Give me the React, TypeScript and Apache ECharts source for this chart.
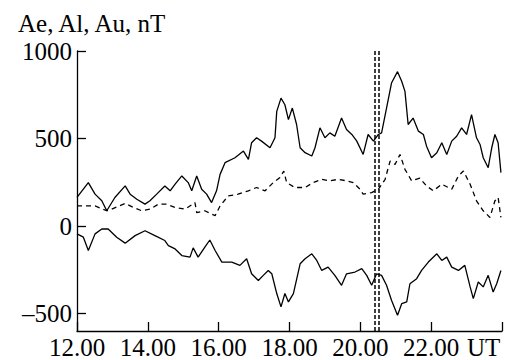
import React, { useEffect, useRef } from "react";
import * as echarts from "echarts";

// [time (UT hours), value nT]
const aeData: [number, number][] = [
  [12.0, 163], [12.32, 248], [12.51, 182], [12.7, 144], [12.84, 87], [13.07, 163],
  [13.36, 229], [13.5, 182], [13.69, 153], [13.92, 125], [14.06, 144], [14.25, 182],
  [14.48, 229], [14.63, 201], [14.77, 239], [14.96, 286], [15.14, 248], [15.24, 201],
  [15.38, 286], [15.52, 210], [15.66, 182], [15.8, 134], [15.94, 201], [16.04, 295],
  [16.18, 362], [16.46, 390], [16.7, 428], [16.84, 381], [16.93, 476], [17.07, 504],
  [17.21, 485], [17.45, 447], [17.59, 504], [17.64, 655], [17.76, 731], [17.87, 693],
  [17.97, 608], [18.08, 674], [18.2, 580], [18.3, 447], [18.44, 419], [18.63, 400],
  [18.72, 447], [18.86, 561], [19.0, 504], [19.14, 532], [19.28, 513], [19.47, 617],
  [19.61, 551], [19.76, 523], [19.9, 485], [20.08, 409], [20.22, 523], [20.37, 485],
  [20.51, 523], [20.6, 532], [20.74, 674], [20.88, 817], [21.05, 882], [21.17, 826],
  [21.26, 769], [21.35, 580], [21.49, 617], [21.64, 542], [21.78, 523], [21.87, 456],
  [22.01, 390], [22.16, 419], [22.3, 476], [22.44, 409], [22.58, 485], [22.72, 513],
  [22.86, 561], [23.0, 523], [23.14, 636], [23.28, 504], [23.38, 466], [23.47, 390],
  [23.61, 333], [23.71, 447], [23.8, 523], [23.89, 476], [23.97, 305],
];

const auData: [number, number][] = [
  [12.0, 115], [12.51, 115], [12.84, 87], [12.98, 96], [13.36, 129], [13.59, 106],
  [13.83, 87], [14.06, 96], [14.3, 125], [14.53, 125], [14.77, 106], [15.05, 96],
  [15.33, 134], [15.38, 77], [15.61, 87], [15.8, 68], [15.9, 59], [16.04, 115],
  [16.27, 172], [16.55, 182], [16.84, 201], [17.07, 220], [17.31, 201], [17.54, 248],
  [17.73, 277], [17.84, 314], [17.92, 248], [18.15, 220], [18.44, 220], [18.67, 248],
  [18.91, 267], [19.14, 258], [19.38, 267], [19.61, 258], [19.8, 248], [19.99, 210],
  [20.08, 182], [20.32, 191], [20.51, 210], [20.7, 267], [20.84, 371], [20.98, 352],
  [21.12, 409], [21.26, 324], [21.45, 258], [21.68, 273], [21.87, 229], [22.06, 201],
  [22.3, 239], [22.58, 210], [22.77, 286], [22.91, 314], [23.1, 239], [23.28, 144],
  [23.47, 87], [23.66, 49], [23.8, 144], [23.89, 163], [23.97, 49],
];

const alData: [number, number][] = [
  [12.0, -45], [12.18, -64], [12.32, -140], [12.51, -45], [12.7, -17], [12.88, -17],
  [13.12, -64], [13.36, -98], [13.64, -55], [13.92, -27], [14.2, -55], [14.48, -83],
  [14.58, -112], [14.77, -131], [14.96, -169], [15.19, -178], [15.28, -125], [15.42, -178],
  [15.61, -121], [15.75, -80], [15.9, -140], [16.09, -206], [16.37, -206], [16.6, -225],
  [16.79, -187], [16.93, -273], [17.12, -311], [17.26, -282], [17.4, -254], [17.5, -273],
  [17.64, -386], [17.76, -462], [17.87, -386], [17.97, -434], [18.11, -386], [18.3, -216],
  [18.44, -187], [18.63, -159], [18.77, -197], [18.91, -254], [19.09, -235], [19.28, -282],
  [19.47, -339], [19.61, -273], [19.85, -263], [20.04, -244], [20.18, -282], [20.32, -339],
  [20.46, -273], [20.6, -282], [20.74, -339], [20.88, -424], [21.05, -510], [21.17, -443],
  [21.31, -434], [21.4, -330], [21.59, -301], [21.73, -254], [21.92, -206], [22.16, -159],
  [22.3, -197], [22.44, -178], [22.58, -235], [22.77, -254], [22.95, -225], [23.1, -348],
  [23.19, -415], [23.33, -320], [23.47, -348], [23.61, -282], [23.75, -377], [23.85, -330],
  [23.97, -254],
];

const yTickValues = [-500, 0, 500, 1000];
const xTickValues = [12, 14, 16, 18, 20, 22, 24];
const xLabelValues = [12, 14, 16, 18, 20, 22];
const eventTimes = [20.42, 20.51];
const yTitle = "Ae, Al, Au, nT";
const xUnit = "UT";

const FONT = "Liberation Serif";

export default function App() {
  const ref = useRef<HTMLDivElement>(null);
  useEffect(() => {
    if (!ref.current) return;
    const chart = echarts.init(ref.current, undefined, { renderer: "svg" });
    const axisLine = { show: true, onZero: false, lineStyle: { color: "#000", width: 1.3 } };
    chart.setOption({
      animation: false,
      backgroundColor: "#fff",
      grid: { left: 77, right: 6, top: 51, bottom: 29 },
      xAxis: {
        type: "value",
        min: 12,
        max: 24,
        name: xUnit,
        nameLocation: "end",
        nameGap: -35,
        nameTextStyle: {
          color: "#000",
          fontFamily: FONT,
          fontSize: 25,
          lineHeight: 22,
          verticalAlign: "top",
          align: "left",
          padding: [5, 0, 0, 0],
        },
        axisLine,
        splitLine: { show: false },
        axisTick: {
          show: true,
          inside: true,
          length: 9,
          customValues: xTickValues,
          lineStyle: { color: "#000", width: 1.3 },
        },
        axisLabel: {
          customValues: xLabelValues,
          formatter: (v: number) => v.toFixed(2),
          color: "#000",
          fontFamily: FONT,
          fontSize: 25,
          lineHeight: 22,
          margin: 5,
        },
      },
      yAxis: {
        type: "value",
        min: -600,
        max: 1000,
        axisLine,
        splitLine: { show: false },
        axisTick: {
          show: true,
          inside: true,
          length: 9,
          customValues: yTickValues,
          lineStyle: { color: "#000", width: 1.3 },
        },
        axisLabel: {
          customValues: yTickValues,
          formatter: (v: number) => String(v).replace("-", "\u2013"),
          color: "#000",
          fontFamily: FONT,
          fontSize: 25,
          margin: 5,
        },
      },
      graphic: [
        {
          type: "text",
          left: 18,
          top: 11,
          style: { text: yTitle, fill: "#000", fontFamily: FONT, fontSize: 25 },
        },
      ],
      series: [
        {
          name: "AE",
          type: "line",
          data: aeData,
          showSymbol: false,
          lineStyle: { color: "#000", width: 1.3 },
          markLine: {
            silent: true,
            symbol: "none",
            label: { show: false },
            lineStyle: { color: "#000", type: [4, 2], width: 1.5 },
            data: eventTimes.map((t) => ({ xAxis: t })),
          },
        },
        {
          name: "AU",
          type: "line",
          data: auData,
          showSymbol: false,
          lineStyle: { color: "#000", width: 1.3, type: [5, 4] },
        },
        {
          name: "AL",
          type: "line",
          data: alData,
          showSymbol: false,
          lineStyle: { color: "#000", width: 1.3 },
        },
      ],
    });
    return () => chart.dispose();
  }, []);
  return <div ref={ref} style={{ width: 508, height: 360, position: "absolute", left: 0, top: 0 }} />;
}
